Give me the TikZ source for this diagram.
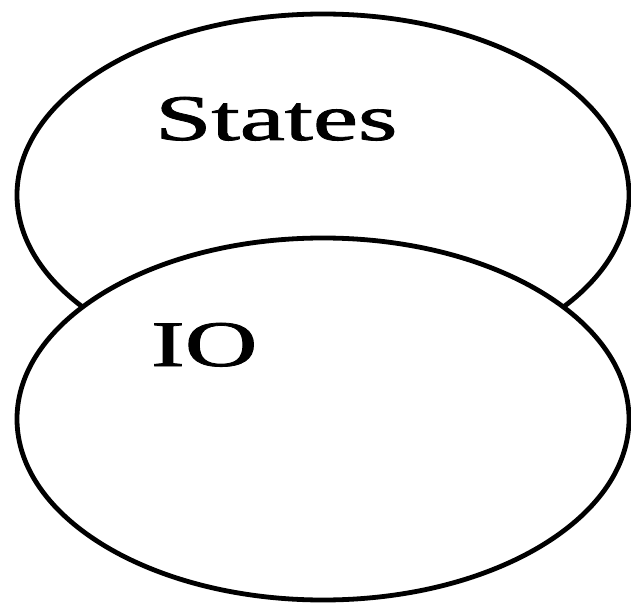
\documentclass[tikz,border=0pt]{standalone}
\usepackage{fontspec}
\setmainfont{Liberation Serif}
\newfontfamily\lblfont[FakeBold=1.2]{Liberation Serif}
\usetikzlibrary{shapes.geometric}
\begin{document}
\begin{tikzpicture}[x=1pt,y=1pt,
  blob/.style={ellipse,draw=black,line width=4.8pt,fill=white,minimum width=612pt,minimum height=362pt,inner sep=0pt},
  lbl/.style={anchor=base west,inner sep=0pt,font=\lblfont\fontsize{65}{70}\selectfont}]
\useasboundingbox (0,0) rectangle (631,603);
\node[blob] (states) at (323,408) {};
\node[blob] (io) at (323,184) {};
\node[lbl] (tstates) at (155,463) {\scalebox{1.56}[1]{States}};
\node[lbl] (tio) at (151,237) {\scalebox{1.55}[1]{IO}};
\end{tikzpicture}
\end{document}
